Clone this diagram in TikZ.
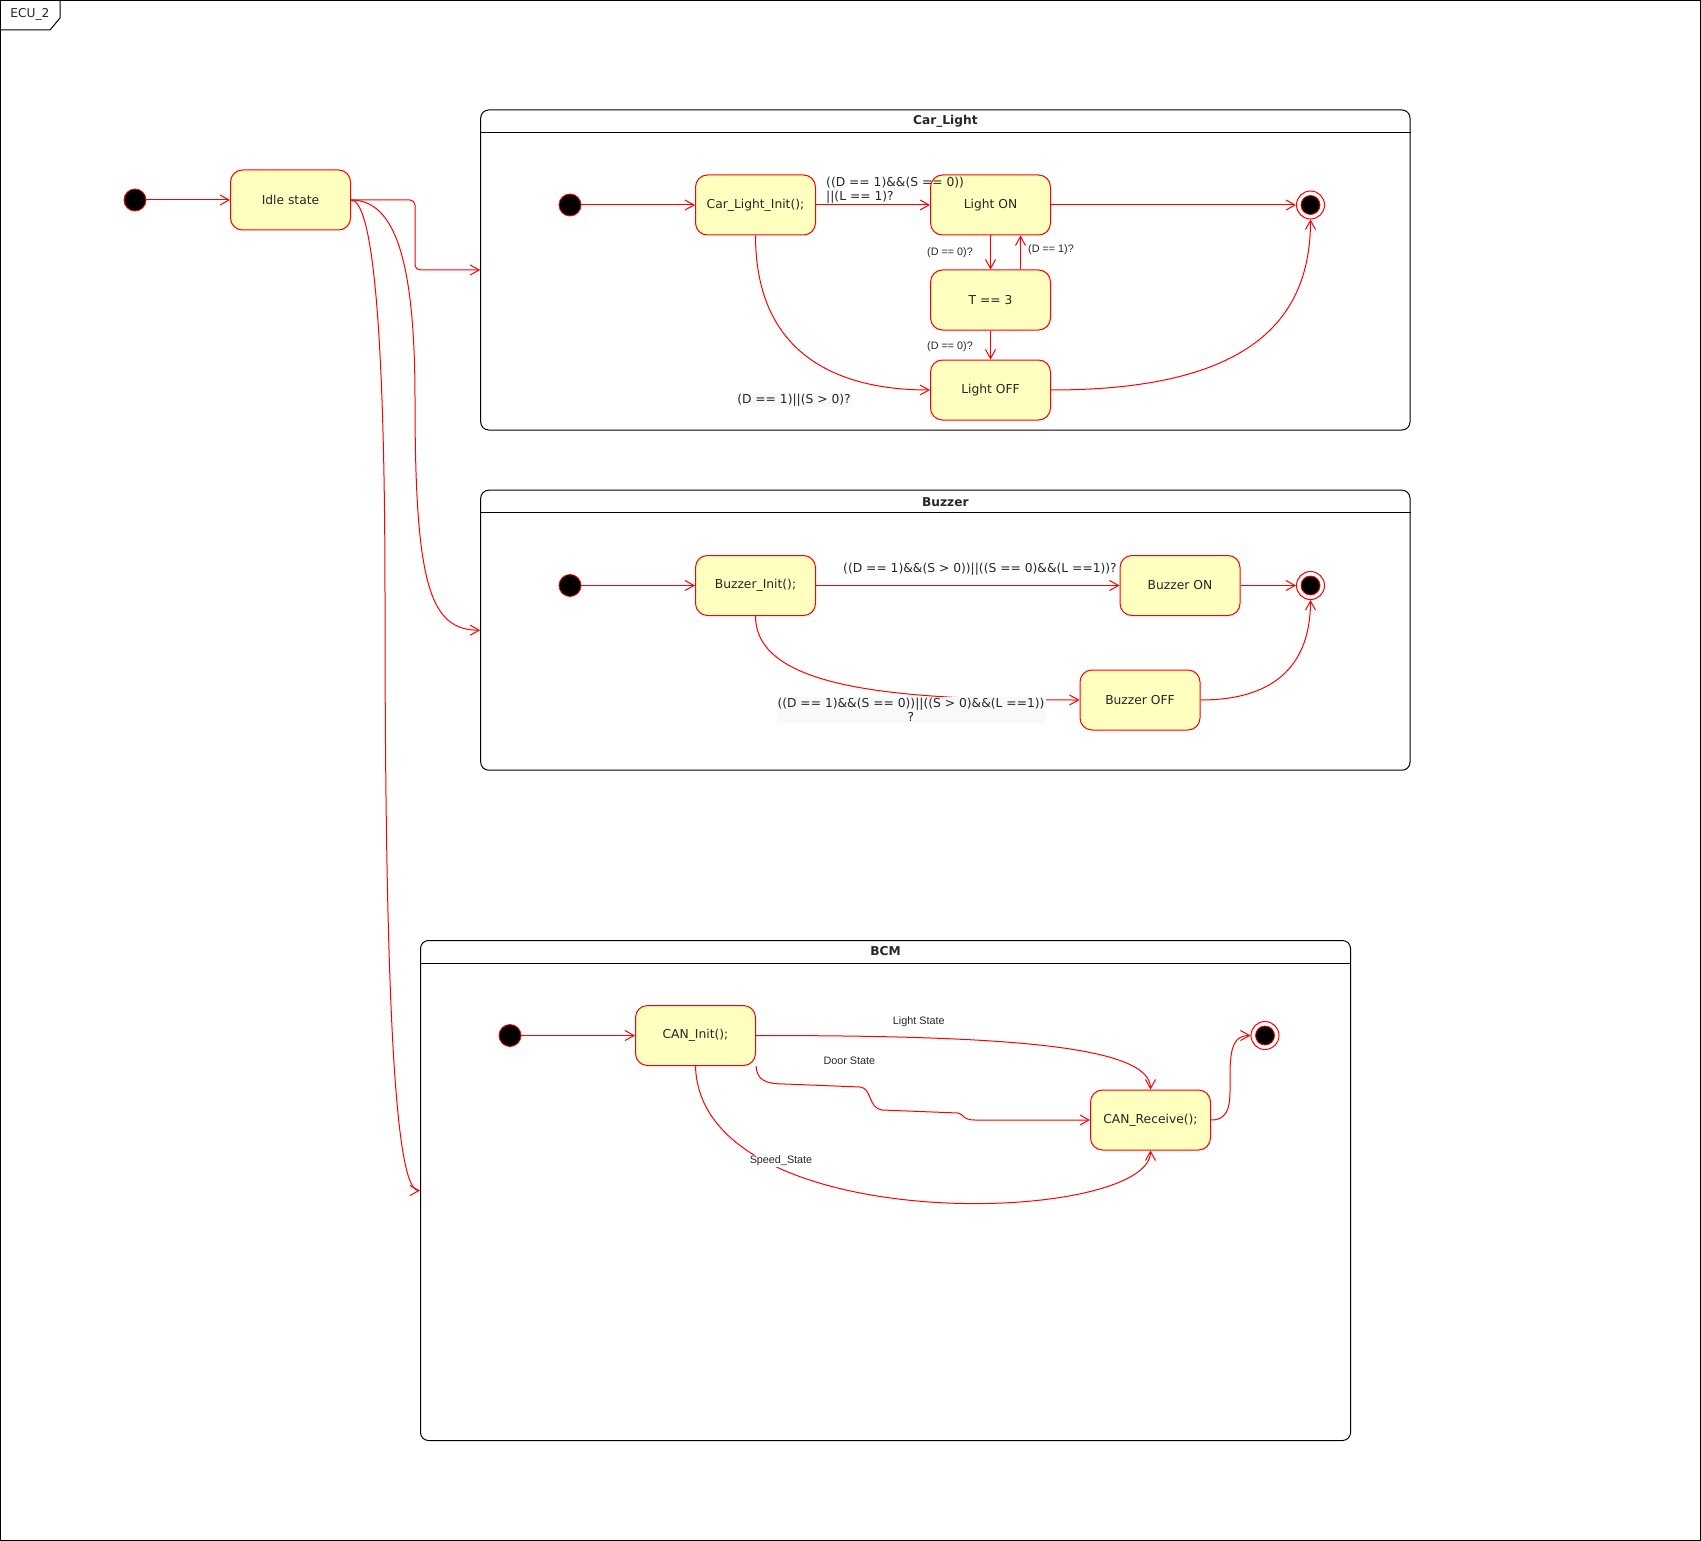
\documentclass[tikz,border=0pt]{standalone}
\usepackage{fontspec}
\setmainfont{DejaVu Sans}
\newfontfamily\lblfont{Liberation Sans}
\usetikzlibrary{arrows.meta,calc}
\definecolor{statefill}{HTML}{FFFFC0}
\definecolor{edgered}{HTML}{FF0000}
\definecolor{lblbg}{HTML}{F8F9FA}
\begin{document}
\begin{tikzpicture}[x=1pt,y=-1pt,
  every node/.style={text=black!85},
  state/.style={draw=edgered, fill=statefill, rounded corners=12pt, minimum width=120pt,
    minimum height=60pt, inner sep=0pt, line width=1pt, font=\fontsize{12.3}{14}\selectfont},
  initdot/.style={circle, draw=edgered, fill=black, minimum size=22pt, inner sep=0pt, line width=0.8pt},
  finaldot/.style={circle, draw=edgered, fill=white, minimum size=28pt, inner sep=0pt, line width=1pt,
    path picture={\fill[black, draw=edgered, line width=0.8pt] (path picture bounding box.center) circle (9.5pt);}},
  region/.style={draw=black, rounded corners=8pt, line width=1pt, inner sep=0pt},
  regiontitle/.style={font=\bfseries\fontsize{12.2}{14}\selectfont},
  trans/.style={draw=edgered, line width=1pt, -{Straight Barb[length=9pt,width=10pt]}},
  guard/.style={font=\fontsize{12.3}{14}\selectfont, inner sep=1pt},
  smallguard/.style={font=\lblfont\fontsize{10.8}{12}\selectfont, inner sep=1pt},
]
\useasboundingbox (0,0) rectangle (1701,1541);

% outer frame with its name tab
\draw[line width=1pt] (0.5,0.5) rectangle (1700,1540);
\draw[line width=1pt] (0.5,30) -- (50,30) -- (60,18) -- (60,0.5);
\node[font=\fontsize{12.2}{14}\selectfont] (frametitle) at (30,14) {ECU\_2};

% top-level states
\node[initdot] (init0) at (135,200) {};
\node[state] (idle) at (290.5,200) {Idle state};

% composite regions
\node[region, minimum width=929.3pt, minimum height=320pt] (carlight) at (945.35,270) {};
\draw[line width=1pt] ([yshift=-23.3pt]carlight.north west) -- ([yshift=-23.3pt]carlight.north east);
\node[regiontitle] (carlighttitle) at (945.35,121.7) {Car\_Light};

\node[region, minimum width=929.3pt, minimum height=280pt] (buzzer) at (945.35,630.2) {};
\draw[line width=1pt] ([yshift=-23pt]buzzer.north west) -- ([yshift=-23pt]buzzer.north east);
\node[regiontitle] (buzzertitle) at (945.35,502) {Buzzer};

\node[region, minimum width=930pt, minimum height=500pt] (bcm) at (885.5,1190.5) {};
\draw[line width=1pt] ([yshift=-23pt]bcm.north west) -- ([yshift=-23pt]bcm.north east);
\node[regiontitle] (bcmtitle) at (885.5,951.5) {BCM};

% Car_Light states
\node[initdot] (cinit) at (570,205) {};
\node[state] (clinit) at (755.5,205) {Car\_Light\_Init();};
\node[state] (lighton) at (990.5,205) {Light ON};
\node[state] (tthree) at (990.5,300) {T == 3};
\node[state] (lightoff) at (990.5,390) {Light OFF};
\node[finaldot] (cfin) at (1310.5,205) {};

% Buzzer states
\node[initdot] (binit) at (570,585.5) {};
\node[state] (buzinit) at (755.5,585.5) {Buzzer\_Init();};
\node[state] (buzon) at (1180,585.5) {Buzzer ON};
\node[state] (buzoff) at (1140,700) {Buzzer OFF};
\node[finaldot] (bfin) at (1310.5,585.5) {};

% BCM states
\node[initdot] (minit) at (510,1035.5) {};
\node[state] (caninit) at (695.5,1035.5) {CAN\_Init();};
\node[state] (canrecv) at (1150.5,1120) {CAN\_Receive();};
\node[finaldot] (mfin) at (1265,1035.5) {};

% top-level transitions
\draw[trans] (init0) -- (idle);
\draw[trans, rounded corners=5pt] (idle.east) -- ++(64,0) |- (carlight.west);
\draw[trans] (idle.east) .. controls (395,200) and (415,260) .. (415,400)
  .. controls (415,585) and (430,630.2) .. (buzzer.west);
\draw[trans] (idle.east) .. controls (372,200) and (385,320) .. (385,600)
  .. controls (385,1000) and (395,1190.5) .. (bcm.west);

% Car_Light transitions
\draw[trans] (cinit) -- (clinit);
\draw[trans] (clinit) -- (lighton);
\draw[trans] (lighton) -- (cfin);
\draw[trans] (lighton.south) -- (tthree.north);
\draw[trans] ([xshift=30pt]tthree.north) -- ([xshift=30pt]lighton.south);
\draw[trans] (tthree) -- (lightoff);
\draw[trans] (clinit.south) .. controls (755.5,370) and (860,390) .. (lightoff.west);
\draw[trans] (lightoff.east) .. controls (1250,390) and (1310.5,320) .. (cfin.south);

% Buzzer transitions
\draw[trans] (binit) -- (buzinit);
\draw[trans] (buzinit) -- (buzon);
\draw[trans] (buzon) -- (bfin);
\draw[trans] (buzinit.south) .. controls (755.5,690) and (900,700) .. (buzoff.west);
\draw[trans] (buzoff.east) .. controls (1280,700) and (1310.5,660) .. (bfin.south);

% BCM transitions
\draw[trans] (minit) -- (caninit);
\draw[trans] (caninit.east) .. controls (1000,1035.5) and (1150.5,1045) .. (canrecv.north);
\draw[trans] (caninit.south east) .. controls (757,1080) and (765,1084) .. (785,1084)
  -- (860,1087) .. controls (872,1088) and (868,1108) .. (882,1110)
  -- (958,1113) .. controls (964,1114) and (962,1120) .. (975,1120) -- (canrecv.west);
\draw[trans] (caninit.south) .. controls (700,1240) and (1150.5,1225) .. (canrecv.south);
\draw[trans] (canrecv.east) .. controls (1232,1120) and (1230,1100) .. (1230,1075)
  .. controls (1230,1045) and (1235,1035.5) .. (mfin.west);

% guards
\node[guard, anchor=west, align=left] (gon) at (825,190) {((D == 1)\&\&(S == 0))\\||(L == 1)?};
\node[smallguard, anchor=east] (gdown) at (974,253) {(D == 0)?};
\node[smallguard, anchor=west] (gup) at (1027,250) {(D == 1)?};
\node[smallguard, anchor=east] (gdowntwo) at (974,347) {(D == 0)?};
\node[guard, fill=lblbg] (goff) at (794,400) {(D == 1)||(S > 0)?};
\node[guard] (gbon) at (980,569.5) {((D == 1)\&\&(S > 0))||((S == 0)\&\&(L ==1))?};
\node[guard, fill=lblbg, align=center] (gboff) at (911,710)
  {((D == 1)\&\&(S == 0))||((S > 0)\&\&(L ==1))\\?};
\node[smallguard] (glight) at (918.8,1022) {Light State};
\node[smallguard] (gdoor) at (849.4,1061) {Door State};
\node[smallguard, fill=white] (gspeed) at (781,1161) {Speed\_State};
\end{tikzpicture}
\end{document}
